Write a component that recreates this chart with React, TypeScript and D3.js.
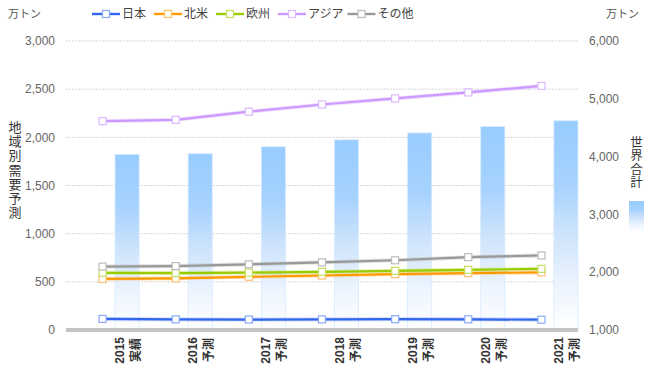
import React from "react";
import * as d3 from "d3";

const years = ["2015", "2016", "2017", "2018", "2019", "2020", "2021"];
const yearSub = ["実績", "予測", "予測", "予測", "予測", "予測", "予測"];
const japan = [115, 110, 108, 110, 112, 111, 107];
const northAmerica = [530, 536, 552, 566, 580, 590, 598];
const europe = [594, 591, 596, 603, 614, 625, 635];
const asia = [2168, 2182, 2266, 2341, 2404, 2466, 2534];
const others = [658, 664, 682, 702, 724, 756, 774];
const world = [4040, 4050, 4170, 4290, 4410, 4520, 4620];
const leftTicks = [0, 500, 1000, 1500, 2000, 2500, 3000];
const rightTicks = [1000, 2000, 3000, 4000, 5000, 6000];

const seriesNames = ["日本", "北米", "欧州", "アジア", "その他"];
const seriesData = [japan, northAmerica, europe, asia, others];
const lineColors = ["#3366ee", "#ff9900", "#99cc00", "#cc99ff", "#999999"];
const markerColors = ["#88a8f8", "#ffc070", "#c4e060", "#dcb8ff", "#bbbbbb"];

const W = 650;
const H = 380;
const left = 66;
const right = 578;
const top = 41;
const bottom = 330;
const FONT = "'Liberation Sans', 'Noto Sans CJK JP', sans-serif";

export default function App() {
  const x = d3.scaleBand<string>().domain(years).range([left, right]).padding(0);
  const bw = x.bandwidth();
  const yL = d3.scaleLinear().domain([0, 3000]).range([bottom, top]);
  const yR = d3.scaleLinear().domain([1000, 6000]).range([bottom, top]);
  const cx = (i: number) => (x(years[i]) as number) + bw / 2;
  const line = d3
    .line<number>()
    .x((_, i) => cx(i))
    .y((d) => yL(d));

  const legendItems: { x: number; name: string; i: number }[] = [];
  let lx = 92;
  seriesNames.forEach((n, i) => {
    legendItems.push({ x: lx, name: n, i });
    const cw = /[\u30a0-\u30ff]/.test(n) ? 10.5 : 12;
    lx += 30 + n.length * cw + 8;
  });

  const barX = (i: number) => (x(years[i]) as number) + bw * 0.67;
  const barW = bw * 0.33;

  return (
    <svg width={W} height={H} style={{ display: "block", position: "absolute", left: 0, top: 0 }} fontFamily={FONT}>
      <defs>
        <linearGradient id="barGrad" x1="0" y1="0" x2="0" y2="1">
          <stop offset="0" stopColor="#99ccff" />
          <stop offset="0.3" stopColor="#a6d2fe" />
          <stop offset="0.55" stopColor="#cfe4fb" />
          <stop offset="0.8" stopColor="#eef5fe" />
          <stop offset="1" stopColor="#ffffff" />
        </linearGradient>
      </defs>
      <rect x={0} y={0} width={W} height={H} fill="#ffffff" />

      {leftTicks
        .filter((t) => t > 0)
        .map((t) => (
          <line key={t} x1={left} x2={right} y1={yL(t)} y2={yL(t)} stroke="#d6d6d6" strokeWidth={1} strokeDasharray="2,1" />
        ))}

      {world.map((v, i) => (
        <rect key={i} x={barX(i)} y={yR(v)} width={barW} height={yR(1000) - yR(v)} fill="url(#barGrad)" stroke="#d6eaff" strokeWidth={0.8} />
      ))}

      <rect x={left} y={bottom - 2} width={right - left} height={4} fill="#c4c4c4" />

      {seriesData.map((s, k) => (
        <g key={k}>
          <path d={line(s) || ""} fill="none" stroke={markerColors[k]} strokeWidth={4} opacity={0.45} />
          <path d={line(s) || ""} fill="none" stroke={lineColors[k]} strokeWidth={2.2} />
        </g>
      ))}
      {seriesData.map((s, k) => (
        <g key={"m" + k}>
          {s.map((v, i) => (
            <rect key={i} x={cx(i) - 3.5} y={yL(v) - 3.5} width={7} height={7} fill="#ffffff" stroke={markerColors[k]} strokeWidth={1.2} />
          ))}
        </g>
      ))}

      {leftTicks.map((t) => (
        <text key={t} x={55} y={yL(t)} dy="0.35em" textAnchor="end" fontSize={12} fill="#666666">
          {d3.format(",")(t)}
        </text>
      ))}
      {rightTicks.map((t) => (
        <text key={t} x={589} y={yR(t)} dy="0.35em" textAnchor="start" fontSize={12} fill="#666666">
          {d3.format(",")(t)}
        </text>
      ))}

      {years.map((yr, i) => {
        const c = barX(i) + barW / 2 + 1;
        return (
          <g key={yr} transform={`translate(${c},337) rotate(-90)`}>
            <text x={0} y={-4} textAnchor="end" fontSize={12} fill="#333333" fontWeight="bold">
              {yr}
            </text>
            <text x={-1} y={12} textAnchor="end" fontSize={12} fill="#333333" fontWeight="bold">
              {yearSub[i]}
            </text>
          </g>
        );
      })}

      <text x={8} y={14} dy="0.35em" fontSize={11} fill="#555555">万トン</text>
      <text x={606} y={14} dy="0.35em" fontSize={11} fill="#555555">万トン</text>

      {legendItems.map((it) => (
        <g key={it.name}>
          <line x1={it.x} x2={it.x + 28} y1={14} y2={14} stroke={lineColors[it.i]} strokeWidth={2.4} />
          <rect x={it.x + 10.5} y={10.5} width={7} height={7} fill="#ffffff" stroke={markerColors[it.i]} strokeWidth={1.2} />
          <text x={it.x + 30} y={14} dy="0.36em" fontSize={12} fill="#444444">
            {it.name}
          </text>
        </g>
      ))}

      {"地域別需要予測".split("").map((ch, i) => (
        <text key={i} x={15} y={127 + i * 14.3} dy="0.36em" textAnchor="middle" fontSize={13} fill="#333333">
          {ch}
        </text>
      ))}
      {"世界合計".split("").map((ch, i) => (
        <text key={i} x={636.5} y={142 + i * 13.6} dy="0.36em" textAnchor="middle" fontSize={12.5} fill="#333333">
          {ch}
        </text>
      ))}
      <rect x={629} y={201} width={15} height={31} fill="url(#barGrad)" />
    </svg>
  );
}
